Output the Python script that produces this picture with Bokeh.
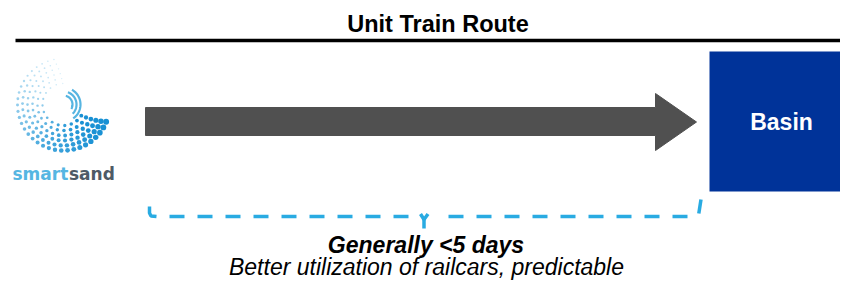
import numpy as np
from bokeh.plotting import figure
from bokeh.models import Range1d
from bokeh.core.properties import value
from bokeh.embed import file_html
from bokeh.resources import INLINE

# ---------------- content ----------------
title_text = "Unit Train Route"
logo_words = ["smart", "sand"]
destination_label = "Basin"
duration_label = "Generally <5 days"
benefit_label = "Better utilization of railcars, predictable"

# ---------------- geometry (reference pixel coordinates) ----------------
rule_x = [15, 860]
rule_y = [40, 40]
arrow_x = [145, 655, 655, 696, 655, 655, 145]
arrow_y = [107, 107, 93, 121.5, 150, 135, 135]
box_left, box_right, box_top, box_bottom = [709], [860], [51], [191]

brace_left_hook_x = [149, 149, 150.5, 156]
brace_left_hook_y = [206, 212.5, 215.5, 216]
brace_right_hook_x = [700.5, 698.3]
brace_right_hook_y = [199, 213]
brace_mid_x = [[420, 423.5, 427.5], [423.5, 423.5]]
brace_mid_y = [[213.5, 219, 213.5], [219, 228]]
dash_left_x = [169, 408]
dash_right_x = [448, 687]
dash_y = [216, 216]

# text baselines (picture pixels)
title_baseline = 31
logo_baseline = 181
basin_baseline = 129.5
duration_baseline = 252.5
benefit_baseline = 274.5
TEXT_DY = -8  # svg text renders ~8px lower than other glyphs

FONT = value("Liberation Sans")
BRACE = "#29abe2"

p = figure(width=840, height=280, x_range=Range1d(0, 840), y_range=Range1d(280, 0),
           output_backend="svg", toolbar_location=None, x_axis_type=None, y_axis_type=None,
           min_border=0, outline_line_color=None, background_fill_color="white")
p.grid.visible = False

# title and rule
p.text(x=[437.5], y=[title_baseline + TEXT_DY], text=[title_text], text_font=FONT, text_font_style="bold",
       text_font_size="23.5px", text_align="center", text_baseline="alphabetic", text_color="#000000")
p.line(rule_x, rule_y, line_color="#000000", line_width=3.5)

# ---- logo (decorative dot swirl) ----
cx, cy = 63, 104
ring_radii = [21, 26, 31, 36, 41, 46]
lx, ly, ls, lc, la = [], [], [], [], []
c0 = np.array([170, 218, 242])
c1 = np.array([25, 145, 212])
for i, r in enumerate(ring_radii):
    start, end = 92 + 2 * i, 338 - 2 * (5 - i)
    n = int(np.radians(end - start) * r / 6.0)
    for t in np.linspace(start, end, n):
        f = (t - 92) / 246.0
        lx.append(cx + r * np.cos(np.radians(t)))
        ly.append(cy - r * np.sin(np.radians(t)))
        ls.append(1.3 + 4.6 * f ** 1.0 * (0.6 + 0.4 * i / 5))
        c = (c0 + (c1 - c0) * min(1, f * 1.1)).astype(int)
        lc.append("#%02x%02x%02x" % tuple(c))
        la.append(0.45 + 0.55 * min(1, f * 1.6))
p.scatter(x=lx, y=ly, size=ls, fill_color=lc, fill_alpha=la, line_color=None)

sw_x, sw_y = [], []
for r, a0, a1 in [(9, -30, 75), (13, -45, 70), (17, -55, 60)]:
    tt = np.radians(np.linspace(a0, a1, 30))
    sw_x.append(list(cx + r * np.cos(tt)))
    sw_y.append(list(cy - r * np.sin(tt)))
p.multi_line(sw_x, sw_y, line_color="#3aa8dc", line_width=2.2, line_alpha=0.85)

p.text(x=[12], y=[logo_baseline + TEXT_DY], text=[logo_words[0]], text_font=value("DejaVu Sans"),
       text_font_style="bold", text_font_size="17px", text_align="left", text_baseline="alphabetic",
       text_color="#55b6e2")
p.text(x=[68.5], y=[logo_baseline + TEXT_DY], text=[logo_words[1]], text_font=value("DejaVu Sans"),
       text_font_style="bold", text_font_size="17px", text_align="left", text_baseline="alphabetic",
       text_color="#4e5a66")

# ---- arrow ----
p.patch(arrow_x, arrow_y, fill_color="#505050", line_color="#505050", line_width=1)

# ---- destination box ----
p.quad(left=box_left, right=box_right, top=box_top, bottom=box_bottom,
       fill_color="#003399", line_color=None)
p.text(x=[781], y=[basin_baseline + TEXT_DY], text=[destination_label], text_font=FONT,
       text_font_style="bold", text_font_size="23px", text_align="center", text_baseline="alphabetic",
       text_color="#ffffff")

# ---- brace ----
p.line(dash_left_x, dash_y, line_color=BRACE, line_width=3.5, line_dash="15 13")
p.line(dash_right_x, dash_y, line_color=BRACE, line_width=3.5, line_dash="15 13")
p.line(brace_left_hook_x, brace_left_hook_y, line_color=BRACE, line_width=3.5)
p.line(brace_right_hook_x, brace_right_hook_y, line_color=BRACE, line_width=3.5)
p.multi_line(brace_mid_x, brace_mid_y, line_color=BRACE, line_width=3.5)

# ---- captions ----
p.text(x=[425.5], y=[duration_baseline + TEXT_DY], text=[duration_label], text_font=FONT,
       text_font_style="bold italic", text_font_size="23px", text_align="center",
       text_baseline="alphabetic", text_color="#000000")
p.text(x=[426], y=[benefit_baseline + TEXT_DY], text=[benefit_label], text_font=FONT,
       text_font_style="italic", text_font_size="23px", text_align="center",
       text_baseline="alphabetic", text_color="#000000")

open("out.html", "w").write(file_html(p, INLINE))
